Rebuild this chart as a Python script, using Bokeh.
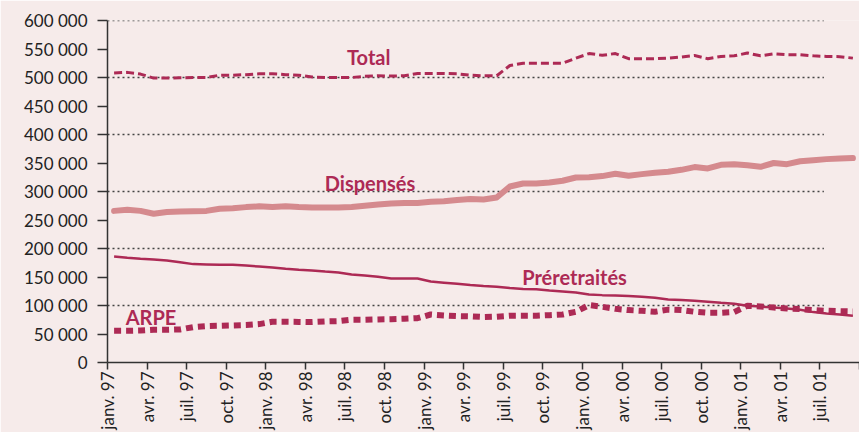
from bokeh.plotting import figure
from bokeh.models import Range1d, FixedTicker
from bokeh.core.properties import value
from bokeh.embed import file_html
from bokeh.resources import INLINE

# ---- data (monthly, janv. 97 .. sept. 01) ----
month_index = list(range(57))
total = [508000, 509000, 506000, 499000, 499000, 499500, 500000, 500000, 504000, 504000,
         505000, 506500, 506500, 505000, 504000, 501000, 500000, 500000, 500000, 502000,
         503000, 502500, 503000, 507000, 507000, 507000, 506500, 504000, 503000, 503000,
         521000, 525000, 525000, 525000, 525000, 534000, 542000, 539000, 542000, 533000,
         533000, 533000, 534000, 536000, 538600, 533000, 537000, 538000, 543000, 538000,
         541600, 540000, 540000, 538000, 537000, 536500, 534000]
dispenses = [266000, 268000, 266000, 261000, 264000, 265000, 265500, 266000, 269600, 270600,
             272600, 274000, 272600, 274000, 272600, 272000, 272000, 272000, 273000, 275000,
             277000, 279000, 280000, 280000, 282000, 283000, 285000, 287000, 286000, 289500,
             308800, 314000, 314000, 315800, 318800, 324600, 325000, 327000, 331000, 327500,
             330500, 333000, 334600, 338000, 342800, 340400, 346800, 348000, 346000, 343300,
             350000, 348000, 353000, 355000, 356800, 358000, 358600]
preretraites = [186000, 183700, 182000, 180700, 179000, 176000, 172600, 172000, 171400, 171400,
                170000, 168400, 166700, 164400, 162800, 161400, 159600, 158000, 154400, 152600,
                150400, 147400, 147400, 147400, 142000, 140000, 138000, 135800, 134000, 132800,
                130500, 128800, 128500, 126300, 124600, 122800, 119300, 118200, 117500, 116500,
                115300, 113500, 110500, 109500, 108200, 106500, 104700, 103000, 99500, 98200,
                96500, 94700, 92500, 88400, 86000, 84200, 82000]
arpe = [55600, 55600, 56000, 57400, 57400, 58000, 62000, 63800, 64400, 65000,
        65600, 67400, 71400, 71400, 71200, 70900, 72000, 72500, 75000, 75000,
        75600, 76000, 76700, 77800, 84200, 82500, 81400, 81000, 79700, 80300,
        82000, 82000, 82000, 83100, 84200, 89000, 100700, 97700, 94200, 91900,
        90700, 89000, 92700, 92000, 89000, 87200, 87200, 88400, 99500, 98200,
        96500, 94700, 93700, 92000, 90700, 90000, 89500]

y_ticks = [0, 50000, 100000, 150000, 200000, 250000, 300000, 350000, 400000, 450000, 500000, 550000, 600000]
y_tick_labels = ["0", "50 000", "100 000", "150 000", "200 000", "250 000", "300 000",
                 "350 000", "400 000", "450 000", "500 000", "550 000", "600 000"]
grid_values = [100000, 200000, 300000, 400000, 500000, 600000]
x_ticks = [0, 3, 6, 9, 12, 15, 18, 21, 24, 27, 30, 33, 36, 39, 42, 45, 48, 51, 54, 57]
x_tick_labels = ["janv. 97", "avr. 97", "juil. 97", "oct. 97",
                 "janv. 98", "avr. 98", "juil. 98", "oct. 98",
                 "janv. 99", "avr. 99", "juil. 99", "oct. 99",
                 "janv. 00", "avr. 00", "juil. 00", "oct. 00",
                 "janv. 01", "avr. 01", "juil. 01", ""]

series_labels = ["Total", "Dispensés", "Préretraités", "ARPE"]
label_x = [19.8, 19.9, 35.4, 3.3]
label_y = [536000, 315000, 150000, 80000]

# ---- styles ----
BG = "#F6EBEA"
DARK = "#AD2A55"
LIGHT = "#D58A8E"
AXIS = "#333333"
FONT = "Lato"
GRID_END = 54.3

xc = [m + 0.5 for m in month_index]

p = figure(width=859, height=432, output_backend="svg", toolbar_location=None,
           x_range=Range1d(0, 57), y_range=Range1d(0, 600000),
           min_border_left=107, min_border_right=0, min_border_top=20, min_border_bottom=69)
p.background_fill_color = BG
p.border_fill_color = BG
p.outline_line_color = None
p.xgrid.visible = False
p.ygrid.visible = False

# dotted grid lines (end before the right edge, as in the original)
p.segment(x0=[0] * len(grid_values), x1=[GRID_END] * len(grid_values), y0=grid_values, y1=grid_values,
          line_color="#444444", line_width=1.6, line_dash="2 3")

p.line(xc, dispenses, line_color=LIGHT, line_width=6, line_cap="round", line_join="round")
p.line(xc, total, line_color=DARK, line_width=3, line_dash="8 4")
p.line(xc, preretraites, line_color=DARK, line_width=2.5)
p.line(xc, arpe, line_color=DARK, line_width=6, line_dash="7 5")

p.text(x=label_x, y=label_y, text=series_labels, text_color=DARK,
       text_font=value(FONT), text_font_style="bold", text_font_size="20px",
       text_align="center", text_baseline="middle")

# axes
ya = p.yaxis[0]
ya.ticker = FixedTicker(ticks=y_ticks)
ya.major_label_overrides = {t: l for t, l in zip(y_ticks, y_tick_labels)}
ya.axis_line_color = AXIS
ya.axis_line_width = 1.5
ya.major_tick_line_color = AXIS
ya.major_tick_line_width = 1.5
ya.major_tick_out = 10
ya.major_tick_in = 0
ya.minor_tick_line_color = None
ya.major_label_standoff = 10
ya.major_label_text_font = FONT
ya.major_label_text_font_size = "17px"
ya.major_label_text_color = "#222222"

xa = p.xaxis[0]
xa.ticker = FixedTicker(ticks=x_ticks)
xa.major_label_overrides = {t: l for t, l in zip(x_ticks, x_tick_labels)}
xa.major_label_orientation = 3.14159265 / 2
xa.axis_line_color = AXIS
xa.axis_line_width = 1.5
xa.major_tick_line_color = AXIS
xa.major_tick_line_width = 1.5
xa.major_tick_out = 7
xa.major_tick_in = 0
xa.minor_tick_line_color = None
xa.major_label_standoff = 2
xa.major_label_text_font = FONT
xa.major_label_text_font_size = "17px"
xa.major_label_text_color = "#222222"

open("out.html", "w").write(file_html(p, INLINE))
